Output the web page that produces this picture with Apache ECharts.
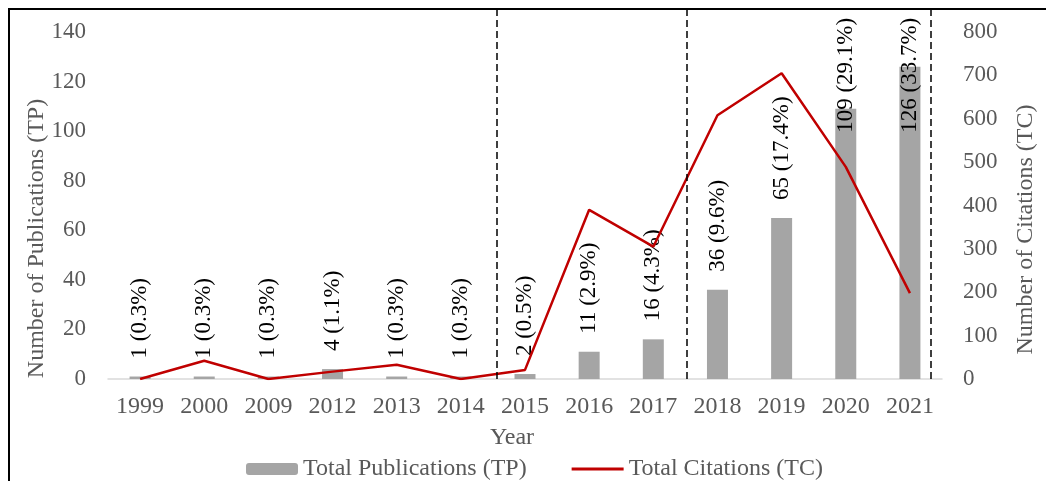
<!DOCTYPE html>
<html>
<head>
<meta charset="utf-8">
<style>
  html, body { margin: 0; padding: 0; background: #fff; }
  #chart { width: 1046px; height: 481px; }
</style>
<script src="https://cdn.jsdelivr.net/npm/echarts@6/dist/echarts.min.js"></script>
</head>
<body>
<div id="chart"></div>
<script>
// 出版数（棒）と被引用数（折れ線）の年別推移
const years = ['1999', '2000', '2009', '2012', '2013', '2014', '2015', '2016', '2017', '2018', '2019', '2020', '2021'];
const totalPublications = [1, 1, 1, 4, 1, 1, 2, 11, 16, 36, 65, 109, 126];
const sharePct = ['0.3', '0.3', '0.3', '1.1', '0.3', '0.3', '0.5', '2.9', '4.3', '9.6', '17.4', '29.1', '33.7'];
const totalCitations = [0, 42, 0, 17, 33, 0, 21, 390, 305, 608, 705, 489, 198];
// 区切りの破線（カテゴリ位置）
const periodBreaks = [5.56, 8.52, 12.33];
const leftTicks = { min: 0, max: 140, interval: 20 };
const rightTicks = { min: 0, max: 800, interval: 100 };

const FONT = 'Liberation Serif';
const GREY_TEXT = '#595959';
const BAR = '#a5a5a5';
const RED = '#c00000';

// 上端を少し広げて破線が枠の上まで届くようにする
const headroom = 369 / 347;

// 高い棒はラベルが枠からはみ出さないよう棒の内側へ下げる
const labelDistance = { 11: -24, 12: -66 };

const chart = echarts.init(document.getElementById('chart'), null, { renderer: 'canvas' });

chart.setOption({
  backgroundColor: '#fff',
  animation: false,
  textStyle: { fontFamily: FONT },
  graphic: [{
    type: 'rect',
    shape: { x: 9, y: 9, width: 1100, height: 500 },
    style: { fill: 'none', stroke: '#000', lineWidth: 2 },
    silent: true,
  }],
  grid: { left: 108, right: 100, top: 10, bottom: 102 },
  legend: {
    data: [
      { name: 'Total Publications (TP)' },
      // 折れ線の凡例は丸マーカーなしの線だけにする
      { name: 'Total Citations (TC)', icon: 'path://M0,0H52V3H0Z' },
    ],
    top: 452,
    left: 241,
    itemWidth: 52,
    itemHeight: 12,
    itemGap: 45,
    textStyle: { color: GREY_TEXT, fontSize: 24, fontFamily: FONT },
  },
  xAxis: [{
    type: 'category',
    data: years,
    axisLine: { lineStyle: { color: '#d9d9d9', width: 1.5 } },
    axisTick: { show: false },
    axisLabel: { color: GREY_TEXT, fontSize: 24, fontFamily: FONT, margin: 16 },
    name: 'Year',
    nameLocation: 'middle',
    nameGap: 47,
    nameTextStyle: { color: GREY_TEXT, fontSize: 24, fontFamily: FONT, padding: [0, 26, 0, 0] },
  }, {
    type: 'value',
    min: -0.5,
    max: 12.5,
    show: false,
  }],
  yAxis: [{
    type: 'value',
    min: leftTicks.min,
    max: leftTicks.max * headroom,
    interval: leftTicks.interval,
    axisLine: { show: false },
    axisTick: { show: false },
    splitLine: { show: false },
    axisLabel: { color: GREY_TEXT, fontSize: 23, fontFamily: FONT, margin: 22, showMaxLabel: false },
    name: 'Number of Publications (TP)',
    nameLocation: 'middle',
    nameGap: 59,
    nameMoveOverlap: false,
    nameTextStyle: { color: GREY_TEXT, fontSize: 24, fontFamily: FONT, padding: [0, 88, 0, 0] },
  }, {
    type: 'value',
    min: rightTicks.min,
    max: rightTicks.max * headroom,
    interval: rightTicks.interval,
    axisLine: { show: false },
    axisTick: { show: false },
    splitLine: { show: false },
    axisLabel: { color: GREY_TEXT, fontSize: 23, fontFamily: FONT, margin: 21, showMaxLabel: false },
    name: 'Number of Citations (TC)',
    nameLocation: 'middle',
    nameGap: 72,
    nameTextStyle: { color: GREY_TEXT, fontSize: 24, fontFamily: FONT, padding: [0, 70, 0, 0] },
  }],
  series: [{
    name: 'Total Publications (TP)',
    type: 'bar',
    barWidth: 21,
    itemStyle: { color: BAR },
    data: totalPublications.map((v, i) => ({
      value: v,
      label: labelDistance[i] !== undefined ? { distance: labelDistance[i] } : undefined,
    })),
    label: {
      show: true,
      position: 'top',
      rotate: 90,
      align: 'left',
      verticalAlign: 'middle',
      distance: 18,
      color: '#000',
      fontSize: 23,
      fontFamily: FONT,
      formatter: (p) => `${p.value} (${sharePct[p.dataIndex]}%)`,
    },
    z: 2,
  }, {
    name: 'Total Citations (TC)',
    type: 'line',
    yAxisIndex: 1,
    data: totalCitations,
    symbol: 'none',
    lineStyle: { color: RED, width: 2.5 },
    itemStyle: { color: RED },
    z: 3,
  }, {
    name: 'breaks',
    type: 'line',
    xAxisIndex: 1,
    yAxisIndex: 0,
    data: [],
    markLine: {
      silent: true,
      symbol: 'none',
      label: { show: false },
      lineStyle: { color: '#000', type: [7, 4], width: 1.5 },
      data: periodBreaks.map((x) => ({ xAxis: x })),
    },
    z: 4,
  }],
});
</script>
</body>
</html>
